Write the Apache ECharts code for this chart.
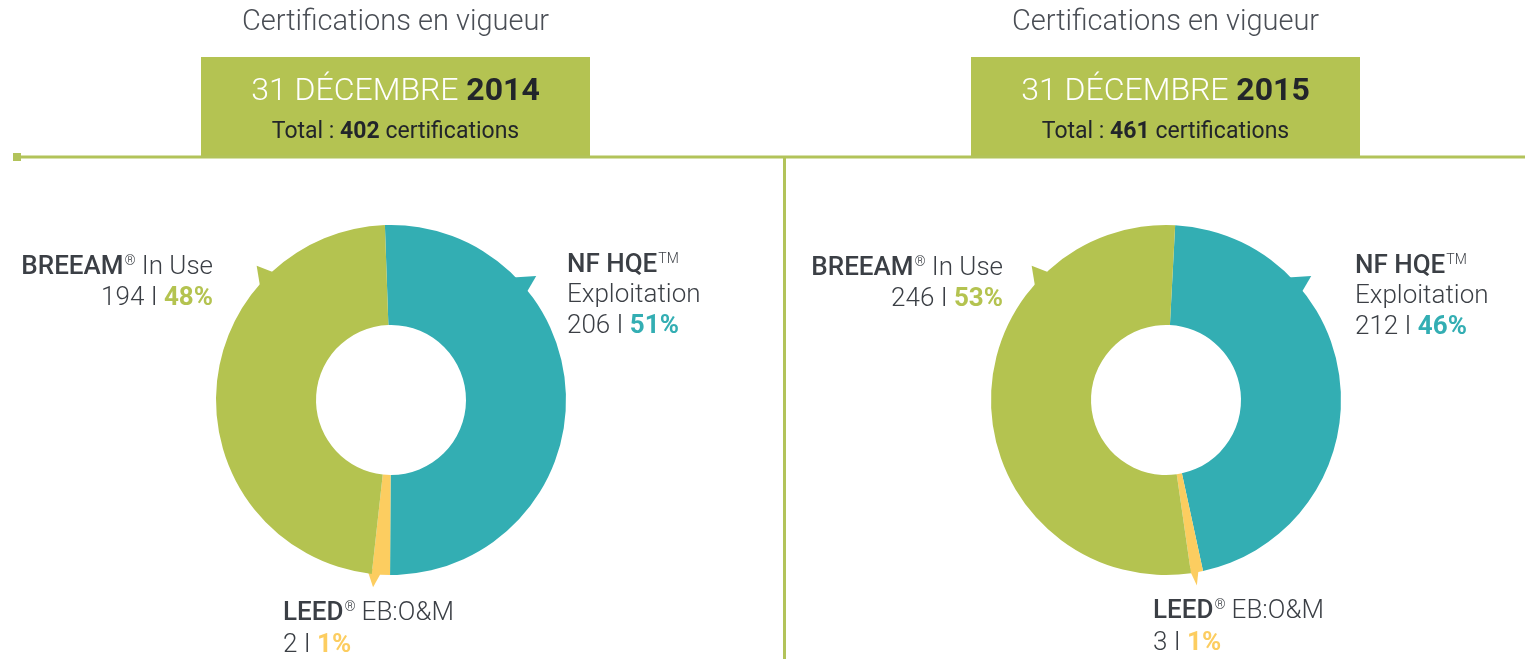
<!DOCTYPE html>
<html><head><meta charset="utf-8">
<script src="https://cdn.jsdelivr.net/npm/echarts@6/dist/echarts.min.js"></script>
<style>html,body{margin:0;padding:0;background:#fff}#c{width:1525px;height:659px}</style>
</head><body><div id="c"></div>
<script>
// ---- data ----
const heading = 'Certifications en vigueur';
const years = ['2014', '2015'];
const totals = [402, 461];
const categories = ['NF HQE™ Exploitation', 'LEED® EB:O&M', 'BREEAM® In Use'];
const counts2014 = [206, 2, 194];
const counts2015 = [212, 3, 246];
const pct2014 = [51, 1, 48];
const pct2015 = [46, 1, 53];

const colors = ['#33aeb3', '#fccd60', '#b4c350'];
const dark = '#3b3f45';
const FONT = 'Roboto';
const LS = 26;

const chart = echarts.init(document.getElementById('c'));

const panels = [
  {cx: 391, cy: 400, boxX: 201, counts: counts2014, pct: pct2014, start: 92, minA: 6,
   breeam: [213, 267], nf: [567, 265], leed: [283, 613]},
  {cx: 1166, cy: 400, boxX: 971, counts: counts2015, pct: pct2015, start: 87, minA: 4,
   breeam: [1003, 268], nf: [1355, 266], leed: [1153, 611]}
];

const rich = {
  b: {fontFamily: FONT, fontSize: LS, fontWeight: 500, fill: dark, color: dark},
  r: {fontFamily: FONT, fontSize: LS, fontWeight: 300, fill: dark, color: dark},
  s: {fontFamily: FONT, fontSize: 14, fontWeight: 300, fill: dark, color: dark, padding: [0, 6, 11, 1]},
  g: {fontFamily: FONT, fontSize: LS, fontWeight: 700, fill: colors[2], color: colors[2]},
  t: {fontFamily: FONT, fontSize: LS, fontWeight: 700, fill: colors[0], color: colors[0]},
  y: {fontFamily: FONT, fontSize: LS, fontWeight: 700, fill: colors[1], color: colors[1]}
};

function txt(x, y, text, align) {
  return {
    type: 'text', x: x, y: y, z: 10,
    style: {text: text, rich: rich, align: align, verticalAlign: 'middle', lineHeight: 30,
      fontFamily: FONT, fontSize: LS, fill: dark}
  };
}

function spike(cx, cy, baseA1, baseA2, tipA, tipR, color) {
  const rad = a => (a - 90) * Math.PI / 180;
  const p = (a, r) => [cx + r * Math.cos(rad(a)), cy + r * Math.sin(rad(a))];
  return {type: 'polygon', z: 1, shape: {points: [p(baseA1, 170), p(tipA, tipR), p(baseA2, 170)]},
    style: {fill: color}};
}

const graphic = [];
const series = [];

panels.forEach((P, i) => {
  const bx = P.boxX, mid = bx + 194.5;
  graphic.push({type: 'rect', shape: {x: bx, y: 57, width: 389, height: 100}, style: {fill: '#b4c352'}, z: 2});
  graphic.push({type: 'text', x: mid, y: 23, z: 10,
    style: {text: heading, align: 'center', verticalAlign: 'middle', fontFamily: FONT, fontSize: 29, fontWeight: 300, fill: '#4a4e55'}});
  graphic.push({type: 'text', x: mid, y: 92, z: 10,
    style: {text: '{w|31 DÉCEMBRE }{k|' + years[i] + '}', align: 'center', verticalAlign: 'middle',
      rich: {w: {fontFamily: FONT, fontSize: 32, fontWeight: 300, fill: '#fff', color: '#fff'},
             k: {fontFamily: FONT, fontSize: 32, fontWeight: 700, fill: '#22252a', color: '#22252a'}}}});
  graphic.push({type: 'text', x: mid, y: 132, z: 10,
    style: {text: '{w|Total : }{k|' + totals[i] + '}{w| certifications}', align: 'center', verticalAlign: 'middle',
      rich: {w: {fontFamily: FONT, fontSize: 23, fontWeight: 400, fill: '#22252a', color: '#22252a'},
             k: {fontFamily: FONT, fontSize: 23, fontWeight: 700, fill: '#22252a', color: '#22252a'}}}});

  // labels
  graphic.push(txt(P.breeam[0], P.breeam[1], '{b|BREEAM}{s|®}{r|In Use}', 'right'));
  graphic.push(txt(P.breeam[0], P.breeam[1] + 31, '{r|' + P.counts[2] + ' I }{g|' + P.pct[2] + '%}', 'right'));
  graphic.push(txt(P.nf[0], P.nf[1], '{b|NF HQE}{s|TM}', 'left'));
  graphic.push(txt(P.nf[0], P.nf[1] + 30, '{r|Exploitation}', 'left'));
  graphic.push(txt(P.nf[0], P.nf[1] + 61, '{r|' + P.counts[0] + ' I }{t|' + P.pct[0] + '%}', 'left'));
  graphic.push(txt(P.leed[0], P.leed[1], '{b|LEED}{s|®}{r|EB:O&M}', 'left'));
  graphic.push(txt(P.leed[0], P.leed[1] + 32, '{r|' + P.counts[1] + ' I }{y|' + P.pct[1] + '%}', 'left'));

  // decorative pointers derived from slice geometry
  const sum = P.counts.reduce((a, b) => a + b, 0);
  const a0 = 90 - P.start;
  const tealEnd = a0 + P.counts[0] / sum * 360;
  const leedEnd = tealEnd + Math.max(P.minA, P.counts[1] / sum * 360);
  const leedMid = (tealEnd + leedEnd) / 2;
  graphic.push(spike(P.cx, P.cy, 44, 52, 49.5, 191, colors[0]));
  graphic.push(spike(P.cx, P.cy, 310, 318, 315, 190, colors[2]));
  graphic.push(spike(P.cx, P.cy, tealEnd + 0.3, leedEnd - 0.3, leedMid, 188, colors[1]));

  series.push({
    type: 'pie', center: [P.cx, P.cy], radius: [75, 175], startAngle: P.start, clockwise: true,
    minAngle: P.minA, avoidLabelOverlap: false, silent: true, z: 5,
    label: {show: false}, labelLine: {show: false},
    itemStyle: {borderWidth: 0},
    data: categories.map((c, k) => ({name: c, value: P.counts[k], itemStyle: {color: colors[k]}}))
  });
});

// divider lines
graphic.push({type: 'rect', shape: {x: 13, y: 153, width: 8, height: 8}, style: {fill: '#b2c35a'}, z: 3});
graphic.push({type: 'line', shape: {x1: 14, y1: 157, x2: 1525, y2: 157}, style: {stroke: '#b2c35a', lineWidth: 3}, z: 3});
graphic.push({type: 'line', shape: {x1: 784.5, y1: 157, x2: 784.5, y2: 659}, style: {stroke: '#b2c35a', lineWidth: 3}, z: 3});

chart.setOption({animation: false, backgroundColor: '#fff', graphic: graphic, series: series});
</script></body></html>
